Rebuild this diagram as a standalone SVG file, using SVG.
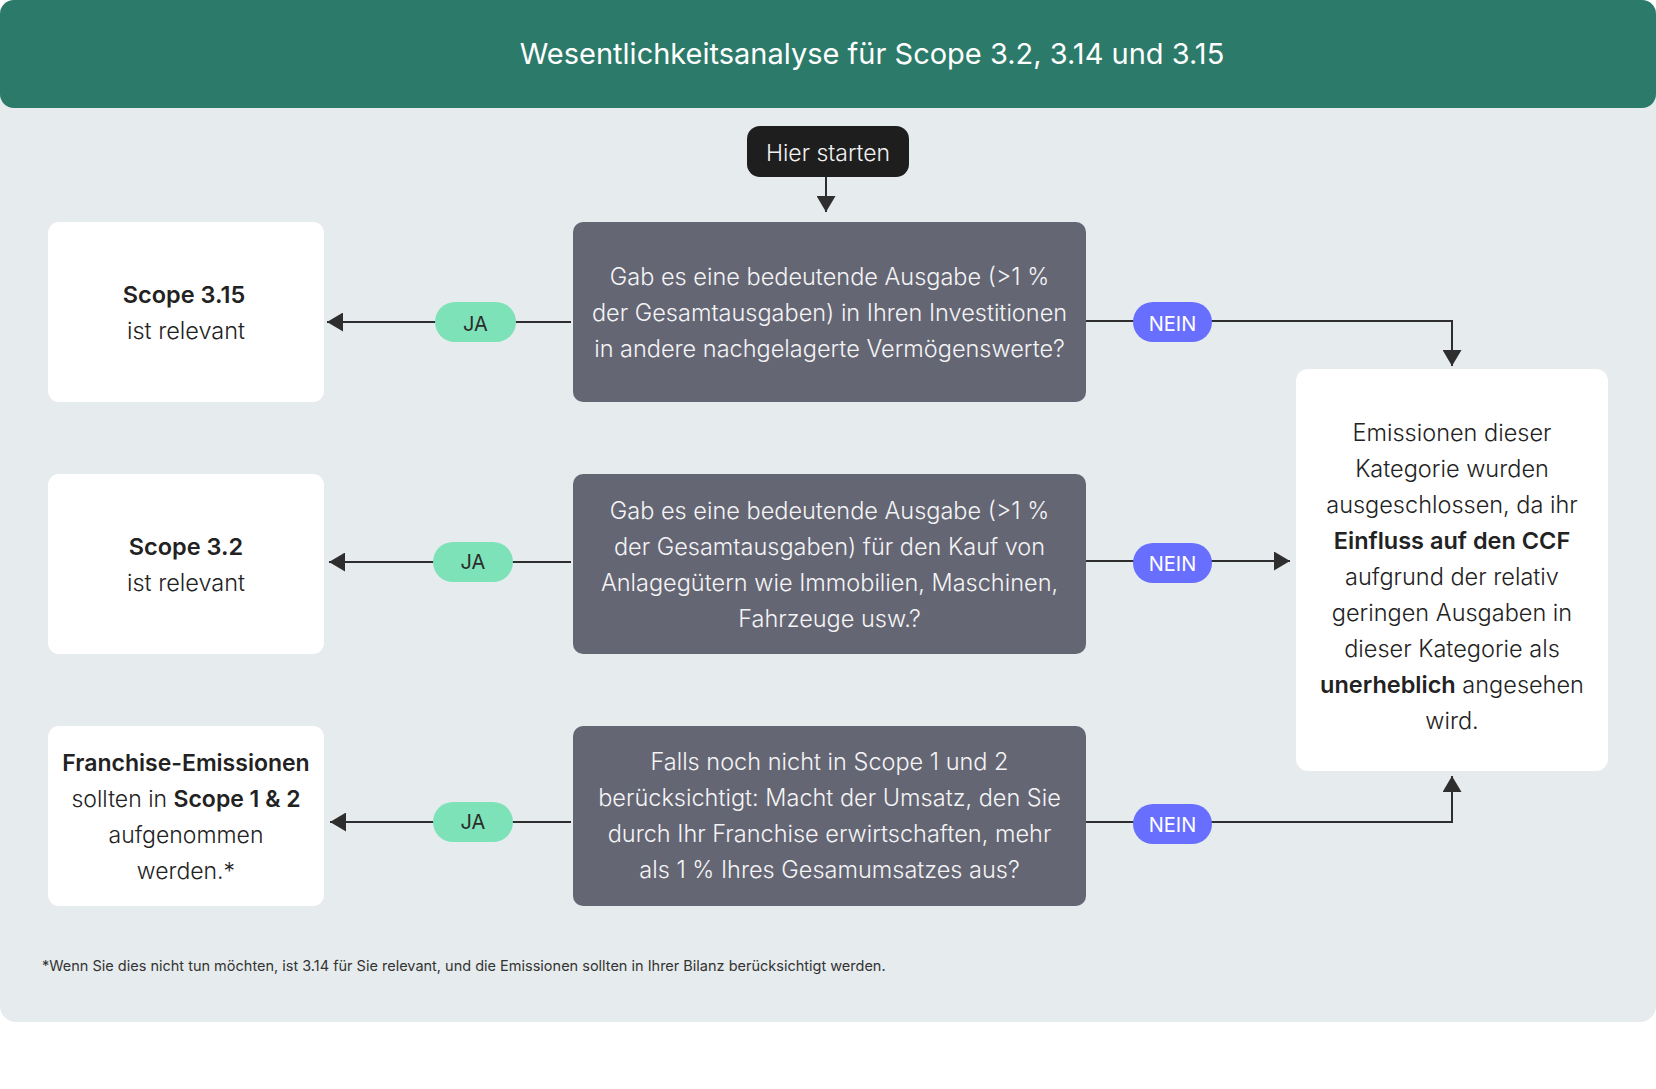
<svg xmlns="http://www.w3.org/2000/svg" width="1656" height="1089" viewBox="0 0 1656 1089">
<style>
text{font-family:Inter,"Noto Sans","Liberation Sans",sans-serif}
.q{fill:#656673}
.qt{fill:#f4f4f6;font-size:23.5px;font-weight:300;text-anchor:middle}
.w{fill:#ffffff}
.wt{fill:#222222;font-size:23.5px;font-weight:300;text-anchor:middle}
.lt{font-size:23px}
.b{font-weight:600}
.ja{fill:#7ee2b8}
.nein{fill:#686ffe}
.pt{font-size:20px;text-anchor:middle}
.c{fill:none;stroke:#2e2e2e;stroke-width:2}
</style>
<defs>
<marker id="ah" markerUnits="userSpaceOnUse" markerWidth="16" markerHeight="19" viewBox="0 0 16 19" refX="16" refY="9.5" orient="auto">
<path d="M0,0 L16,9.5 L0,19 Z" fill="#2e2e2e"/>
</marker>
</defs>
<rect x="0" y="0" width="1656" height="1022" rx="16" fill="#e6ebed"/>
<g id="header">
<rect x="0" y="0" width="1656" height="108" rx="14" fill="#2c7a69"/>
<text x="872" y="64" font-size="29" fill="#ffffff" text-anchor="middle">Wesentlichkeitsanalyse für Scope 3.2, 3.14 und 3.15</text>
</g>
<g id="connectors">
<line class="c" x1="826" y1="177" x2="826" y2="212" marker-end="url(#ah)"/>
<line class="c" x1="571" y1="322" x2="327" y2="322" marker-end="url(#ah)"/>
<line class="c" x1="571" y1="562" x2="329" y2="562" marker-end="url(#ah)"/>
<line class="c" x1="571" y1="822" x2="330" y2="822" marker-end="url(#ah)"/>
<path class="c" d="M1084,321 H1452 V366" marker-end="url(#ah)"/>
<path class="c" d="M1084,561 H1290" marker-end="url(#ah)"/>
<path class="c" d="M1084,822 H1452 V776" marker-end="url(#ah)"/>
</g>
<g id="start">
<rect x="747" y="126" width="162" height="51" rx="13" fill="#1e1e1e"/>
<text x="828" y="161" font-size="23" font-weight="300" fill="#f2f2f2" text-anchor="middle">Hier starten</text>
</g>
<g id="q1">
<rect class="q" x="573" y="222" width="513" height="180" rx="10"/>
<text class="qt" x="829.5" y="285">Gab es eine bedeutende Ausgabe (&gt;1 %</text>
<text class="qt" x="829.5" y="321">der Gesamtausgaben) in Ihren Investitionen</text>
<text class="qt" x="829.5" y="357">in andere nachgelagerte Vermögenswerte?</text>
</g>
<g id="q2">
<rect class="q" x="573" y="474" width="513" height="180" rx="10"/>
<text class="qt" x="829.5" y="519">Gab es eine bedeutende Ausgabe (&gt;1 %</text>
<text class="qt" x="829.5" y="555">der Gesamtausgaben) für den Kauf von</text>
<text class="qt" x="829.5" y="591">Anlagegütern wie Immobilien, Maschinen,</text>
<text class="qt" x="829.5" y="627">Fahrzeuge usw.?</text>
</g>
<g id="q3">
<rect class="q" x="573" y="726" width="513" height="180" rx="10"/>
<text class="qt" x="829.5" y="770">Falls noch nicht in Scope 1 und 2</text>
<text class="qt" x="829.5" y="806">berücksichtigt: Macht der Umsatz, den Sie</text>
<text class="qt" x="829.5" y="842">durch Ihr Franchise erwirtschaften, mehr</text>
<text class="qt" x="829.5" y="878">als 1 % Ihres Gesamumsatzes aus?</text>
</g>
<g id="r1">
<rect class="w" x="48" y="222" width="276" height="180" rx="11"/>
<text class="wt b" x="184" y="303">Scope 3.15</text>
<text class="wt" x="186" y="339">ist relevant</text>
</g>
<g id="r2">
<rect class="w" x="48" y="474" width="276" height="180" rx="11"/>
<text class="wt b" x="186" y="555">Scope 3.2</text>
<text class="wt" x="186" y="591">ist relevant</text>
</g>
<g id="r3">
<rect class="w" x="48" y="726" width="276" height="180" rx="11"/>
<text class="wt lt b" x="186" y="771">Franchise-Emissionen</text>
<text class="wt lt" x="186" y="807">sollten in <tspan class="b">Scope 1 &amp; 2</tspan></text>
<text class="wt lt" x="186" y="843">aufgenommen</text>
<text class="wt lt" x="186" y="879">werden.*</text>
</g>
<g id="excluded">
<rect class="w" x="1296" y="369" width="312" height="402" rx="12"/>
<text class="wt" x="1452" y="441">Emissionen dieser</text>
<text class="wt" x="1452" y="477">Kategorie wurden</text>
<text class="wt" x="1452" y="513">ausgeschlossen, da ihr</text>
<text class="wt b" x="1452" y="549">Einfluss auf den CCF</text>
<text class="wt" x="1452" y="585">aufgrund der relativ</text>
<text class="wt" x="1452" y="621">geringen Ausgaben in</text>
<text class="wt" x="1452" y="657">dieser Kategorie als</text>
<text class="wt" x="1452" y="693"><tspan class="b">unerheblich</tspan> angesehen</text>
<text class="wt" x="1452" y="729">wird.</text>
</g>
<g id="ja1"><rect class="ja" x="435" y="302" width="81" height="40" rx="20"/><text class="pt" x="475.5" y="331" fill="#2b2b2b">JA</text></g>
<g id="ja2"><rect class="ja" x="433" y="542" width="80" height="40" rx="20"/><text class="pt" x="473" y="569" fill="#2b2b2b">JA</text></g>
<g id="ja3"><rect class="ja" x="433" y="802" width="80" height="40" rx="20"/><text class="pt" x="473" y="829" fill="#2b2b2b">JA</text></g>
<g id="nein1"><rect class="nein" x="1133" y="302" width="79" height="40" rx="20"/><text class="pt" x="1172.5" y="331" fill="#ffffff">NEIN</text></g>
<g id="nein2"><rect class="nein" x="1133" y="543" width="79" height="40" rx="20"/><text class="pt" x="1172.5" y="571" fill="#ffffff">NEIN</text></g>
<g id="nein3"><rect class="nein" x="1133" y="804" width="79" height="40" rx="20"/><text class="pt" x="1172.5" y="832" fill="#ffffff">NEIN</text></g>
<text x="42" y="971" font-size="14.5" fill="#333333">*Wenn Sie dies nicht tun möchten, ist 3.14 für Sie relevant, und die Emissionen sollten in Ihrer Bilanz berücksichtigt werden.</text>
</svg>
